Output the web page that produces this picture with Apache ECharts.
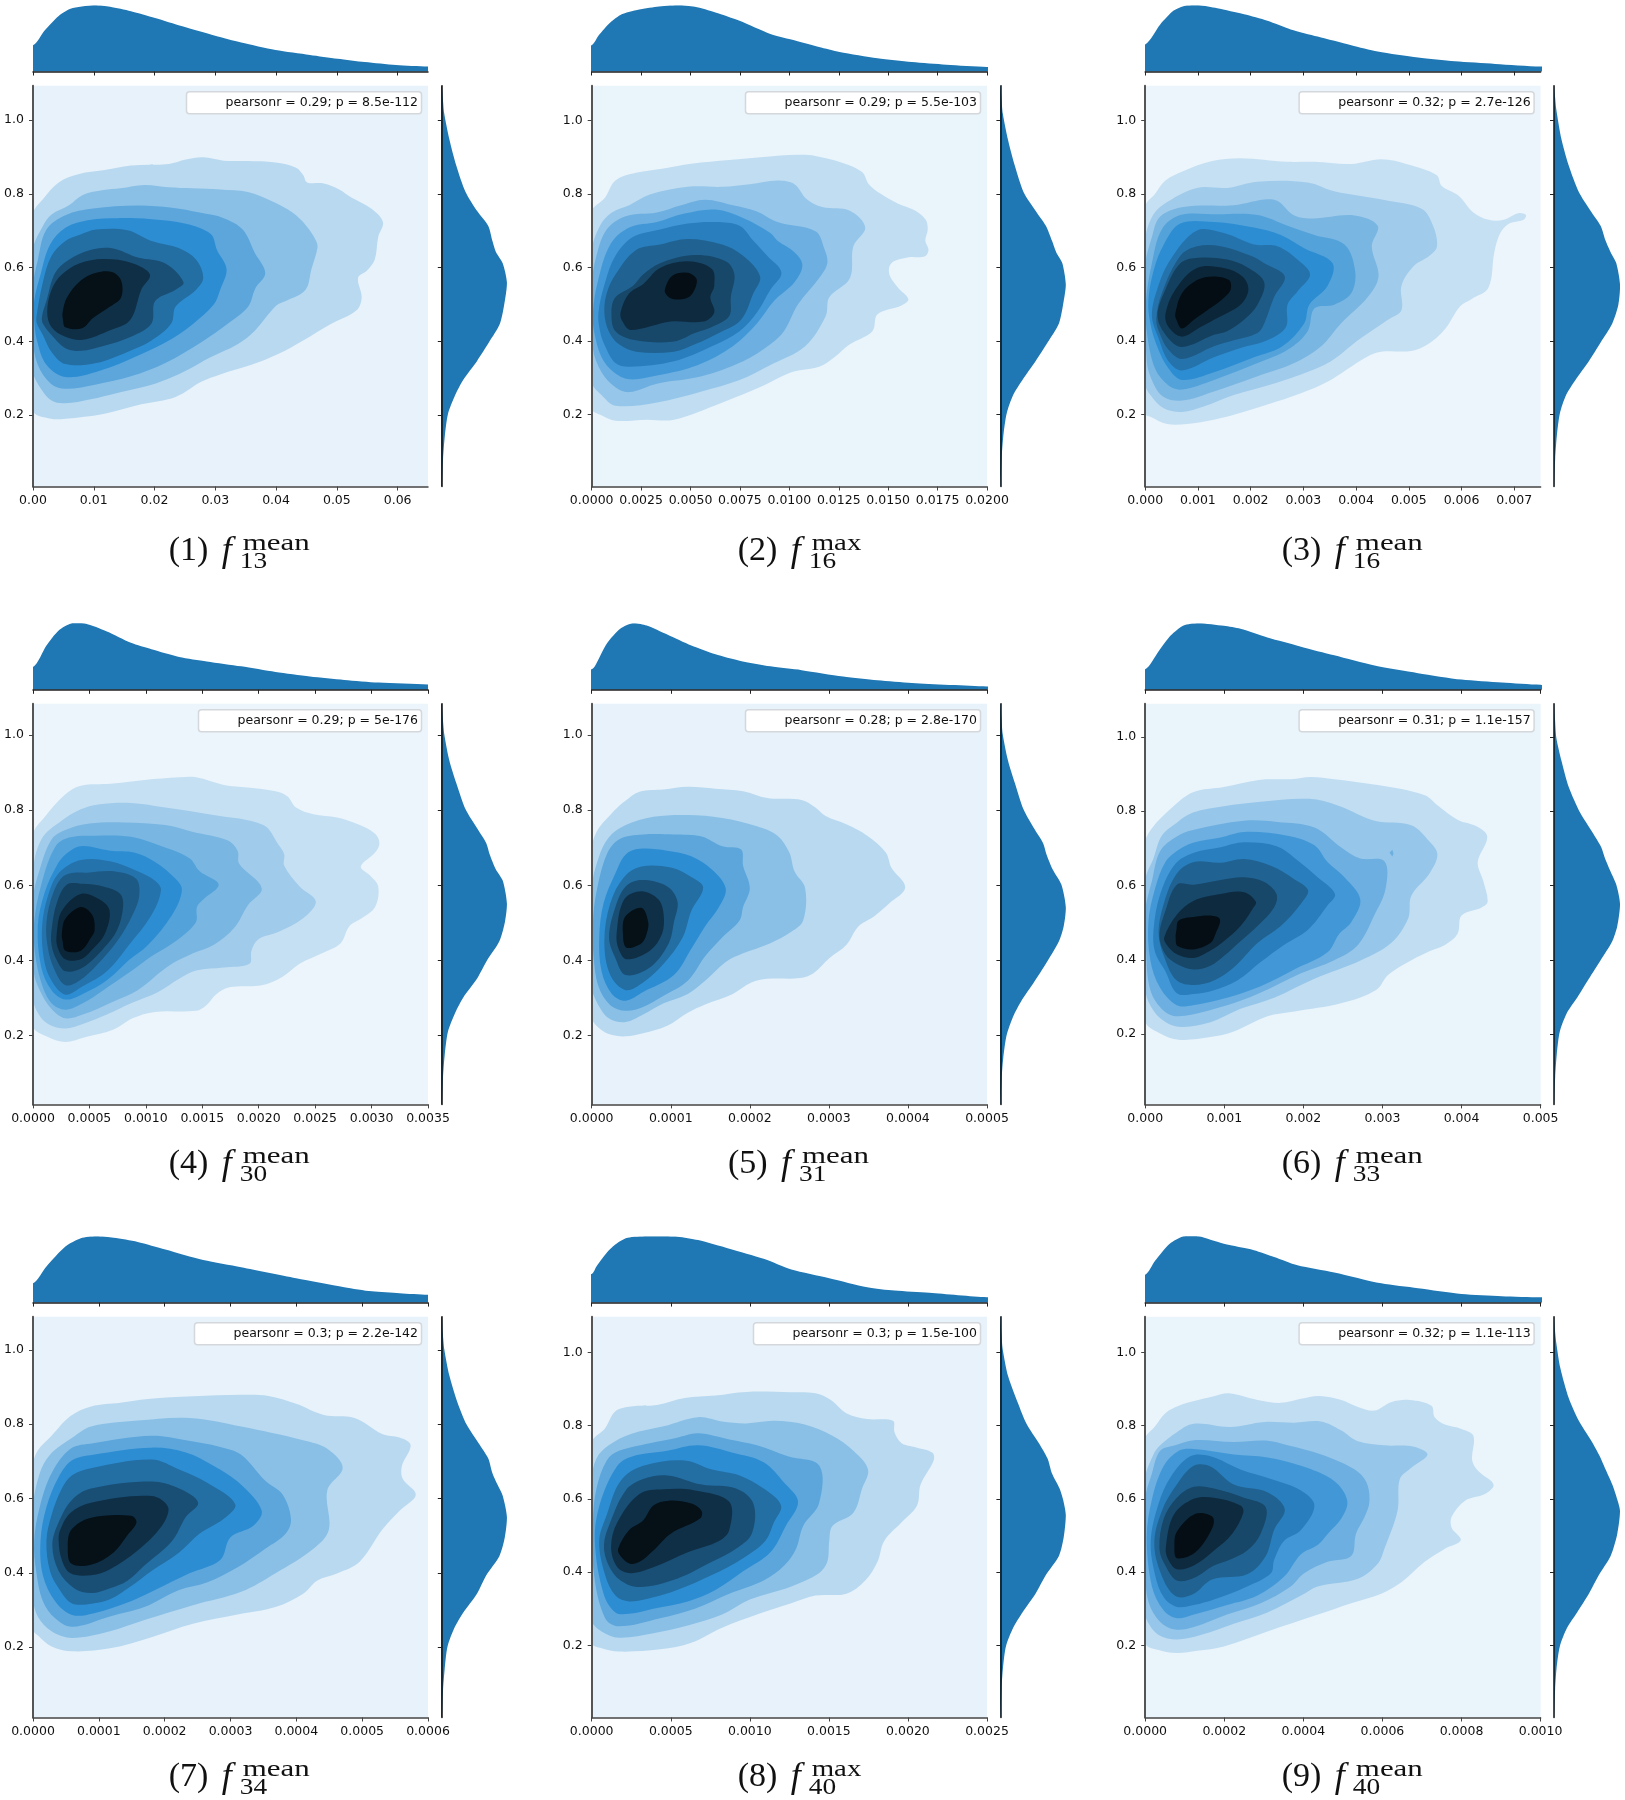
<!DOCTYPE html>
<html><head><meta charset="utf-8">
<style>html,body{margin:0;padding:0;background:#fff}#c{width:1625px;height:1800px}</style>
<script src="https://cdn.jsdelivr.net/npm/echarts@6/dist/echarts.min.js"></script>
</head><body><div id="c"></div>
<script>
// Contours: [x as percent of the panel's x-axis span, y value], one ring per density level, lightest first.
const contours1=[
[[0,.744],[2.5,.785],[6.5,.831],[11.7,.854],[17.8,.864],[24.8,.877],[34.4,.881],[38.7,.893],[43.1,.899],[48.3,.89],[54.4,.889],[61.4,.885],[66.6,.871],[68.4,.851],[69.4,.831],[73.6,.828],[77.5,.812],[80.6,.79],[85.8,.759],[88.6,.723],[87.4,.683],[86.5,.621],[84.5,.591],[82.3,.572],[83.2,.519],[81.9,.484],[75.3,.446],[68.4,.402],[62.2,.366],[55.3,.336],[47.4,.31],[42.6,.29],[36.1,.249],[27.4,.229],[17.8,.203],[8.2,.19],[4.5,.19],[0,.213]],
[[0,.647],[2.5,.713],[4.7,.744],[9.1,.769],[12.6,.797],[17.8,.81],[22.1,.815],[28.2,.824],[34.4,.818],[40.5,.815],[47.4,.812],[54.4,.805],[60.5,.78],[65.7,.749],[69.2,.713],[71.7,.672],[72,.652],[70.5,.596],[69,.54],[64,.509],[61.6,.497],[56.1,.428],[51.8,.392],[44.8,.356],[38.7,.32],[30.9,.285],[22.1,.262],[14.3,.242],[8.2,.232],[4.7,.239],[1.2,.285],[0,.32]],
[[0,.55],[1.2,.62],[3.4,.703],[8.2,.742],[15.2,.76],[26.5,.768],[35.2,.762],[42.2,.749],[48.3,.734],[53.1,.703],[56.1,.641],[58.8,.585],[56.3,.544],[54.4,.493],[49.2,.447],[43.1,.401],[33.5,.341],[24.8,.305],[16,.283],[8.2,.271],[4.5,.285],[1.2,.336],[0,.407]],
[[.3,.509],[1.9,.581],[4.3,.662],[8.2,.708],[14.3,.729],[21.3,.734],[30,.731],[38.7,.719],[45,.691],[46.6,.647],[49,.596],[47.4,.54],[45.7,.499],[40.5,.447],[35.2,.407],[26.5,.361],[16.9,.32],[8.2,.303],[3.4,.336],[1,.402],[.3,.457]],
[[.9,.468],[2.5,.56],[4.7,.632],[8.2,.672],[11.7,.688],[16,.703],[23.9,.701],[30,.672],[37,.652],[41.3,.621],[43.1,.572],[41.3,.54],[36.1,.494],[35,.448],[30,.402],[23.9,.371],[16,.341],[8.2,.338],[4.7,.371],[2.5,.417],[1,.448]],
[[2.3,.468],[3.4,.509],[5.6,.585],[9.1,.621],[14.3,.647],[20,.652],[26.5,.627],[33.5,.611],[38.1,.56],[36.1,.54],[30.9,.509],[30,.448],[24.8,.412],[17.8,.387],[12.1,.374],[8.2,.381],[4.7,.417],[2.5,.448]],
[[3.6,.479],[4.7,.54],[7.3,.581],[11.7,.611],[17.8,.623],[24.8,.613],[29.6,.581],[27.4,.54],[24.6,.458],[19.5,.43],[12.6,.404],[8.2,.412],[4.7,.438]],
[[7.5,.479],[8.6,.519],[12.1,.565],[16,.586],[20,.588],[22.3,.565],[22.3,.519],[19.5,.494],[15.2,.463],[12.4,.435],[8.2,.438],[7.6,.458]]
];
const contours2=[
[[0,.75],[3.4,.791],[6,.837],[11.2,.858],[18.2,.87],[25.2,.883],[34.8,.893],[43.5,.901],[52.2,.907],[56.6,.904],[63.5,.885],[68.4,.86],[70.1,.827],[73.1,.801],[77.5,.774],[81.9,.755],[84.5,.73],[85,.704],[84.4,.673],[85.2,.648],[84.2,.63],[80.2,.628],[75.8,.612],[75.3,.581],[77.5,.545],[80.1,.514],[78.4,.497],[72.3,.473],[71,.427],[65.3,.391],[61.4,.356],[57.5,.33],[50.5,.315],[43.5,.279],[33.1,.233],[20.8,.186],[13.9,.186],[6,.183],[2.6,.197],[0,.217]],
[[0,.642],[2.1,.714],[5.1,.75],[9.5,.77],[14.7,.799],[24.3,.82],[33.1,.82],[40,.827],[47,.837],[51.3,.827],[54.4,.786],[58.3,.765],[65.3,.755],[69.2,.709],[66.2,.658],[65.3,.571],[60.1,.519],[59.2,.468],[54,.386],[45.2,.335],[37.4,.294],[27.8,.263],[16.5,.233],[6,.224],[2.5,.253],[0,.289]],
[[0,.55],[1.2,.632],[3.8,.704],[8.6,.74],[16.5,.75],[22.6,.77],[28.7,.785],[35.7,.77],[41.8,.753],[47,.724],[56.6,.699],[58.8,.653],[59.6,.612],[57.5,.571],[52.2,.5],[48.7,.428],[45.2,.391],[38.3,.345],[27.8,.304],[16.5,.284],[9.5,.261],[6,.274],[2.5,.315],[.3,.381]],
[[.3,.478],[1.5,.56],[4.7,.663],[9.5,.709],[16.5,.724],[23.5,.747],[31.3,.758],[38.3,.735],[45.2,.694],[47,.673],[51.3,.642],[53.3,.607],[51.3,.56],[46.1,.509],[41.8,.448],[35.7,.386],[26.9,.335],[16.5,.306],[9.5,.296],[5.6,.315],[2.5,.356],[.6,.427]],
[[1.7,.478],[3.4,.56],[6,.632],[10.4,.683],[17.3,.704],[24.3,.72],[31.3,.724],[37.4,.714],[40.9,.673],[44.4,.632],[48,.586],[45.2,.54],[41.8,.478],[37.4,.427],[30.4,.386],[20.8,.345],[9.5,.33],[6,.34],[3.4,.386],[2.1,.427]],
[[3.2,.478],[3.8,.53],[6,.581],[11.2,.648],[17.3,.663],[24.3,.678],[33,.663],[38.3,.632],[42.6,.576],[40.9,.53],[37.8,.458],[32.2,.422],[26.1,.391],[20.8,.371],[11.2,.371],[6.9,.391],[4.3,.427]],
[[5,.478],[6,.519],[10.4,.55],[13,.581],[17.3,.612],[26.1,.634],[33.9,.617],[36.1,.581],[35.2,.52],[34.8,.468],[30.4,.438],[26.1,.422],[20.8,.399],[11.2,.402],[6,.427]],
[[7.3,.478],[9.5,.53],[13,.555],[17.3,.599],[24.3,.617],[30.4,.596],[31,.55],[30,.519],[31,.478],[28.2,.453],[20,.453],[9.9,.43],[7.8,.453]],
[[18.5,.54],[20.4,.578],[24.3,.586],[26.6,.566],[24.8,.521],[20.8,.514],[19,.525]]
];
const contours3=[
[[0,.765],[2.5,.801],[5.1,.837],[9.7,.863],[16.9,.89],[24.1,.898],[36,.888],[42.8,.888],[52.1,.882],[59.7,.895],[66.5,.881],[73.7,.852],[75,.822],[79.2,.796],[83,.75],[86.9,.73],[90.6,.73],[94.4,.748],[96.3,.743],[95.7,.73],[91.9,.719],[89.8,.694],[88.3,.642],[86.8,.545],[82.5,.514],[79.6,.494],[75.8,.432],[71.5,.391],[67.3,.373],[59.7,.371],[55.9,.356],[46.1,.289],[39.4,.258],[30.9,.227],[23.3,.202],[17.4,.186],[10.6,.174],[5.5,.174],[1.3,.194],[0,.202]],
[[0,.673],[2.1,.745],[5.9,.781],[13.1,.817],[20.7,.817],[28.3,.834],[41.1,.832],[47.8,.808],[60.5,.784],[69.9,.76],[72.8,.714],[73.8,.658],[71.9,.632],[67.8,.603],[64.8,.55],[64.8,.484],[61.4,.458],[53.8,.402],[47,.345],[39.4,.309],[30.9,.279],[22.4,.253],[14.8,.222],[9.3,.207],[4.7,.217],[1.3,.253],[0,.284]],
[[0,.601],[1.7,.683],[3.8,.739],[9.7,.765],[22.4,.77],[32.6,.785],[37.7,.742],[42.5,.734],[52.9,.742],[58.8,.714],[57.3,.658],[59,.576],[56.3,.52],[49.5,.448],[44.5,.386],[37.7,.34],[28.4,.304],[17.4,.263],[9.3,.238],[4.7,.248],[2.1,.284],[.4,.345]],
[[.2,.509],[1.7,.612],[4.2,.704],[8.9,.743],[18.2,.745],[28.4,.743],[36,.714],[42.8,.689],[50.4,.663],[53.1,.591],[52.1,.53],[47.8,.499],[42.8,.489],[41.1,.427],[36,.376],[28.4,.34],[17.4,.294],[9.3,.268],[5.9,.279],[2.5,.325],[.4,.427]],
[[.8,.509],[2.1,.591],[4.7,.663],[8.9,.72],[17.4,.724],[27.5,.709],[34.3,.689],[40.2,.653],[47.4,.612],[46.1,.55],[41.5,.499],[40.2,.448],[34.7,.386],[27.5,.356],[17.4,.315],[9.3,.294],[5.9,.325],[3,.386],[1.3,.448]],
[[1.7,.468],[3,.54],[6.4,.622],[13.1,.701],[19.9,.694],[27.5,.663],[33.4,.658],[38.5,.622],[41.7,.581],[38.5,.535],[36,.499],[35.6,.438],[30.9,.402],[24.1,.381],[17.4,.356],[9.3,.32],[5.9,.345],[3.4,.407]],
[[2.8,.458],[4.2,.53],[8.9,.632],[13.1,.658],[19.1,.658],[26.7,.632],[30.1,.612],[35.3,.576],[32.6,.52],[30.1,.448],[28.4,.422],[22.4,.402],[17.4,.386],[9.3,.351],[5.9,.376],[3.8,.417]],
[[3.1,.468],[5.1,.54],[8.9,.612],[13.5,.627],[20.7,.622],[25.8,.601],[30.1,.56],[28.4,.499],[25,.458],[20.7,.427],[17.4,.417],[9.3,.384],[5.5,.412]],
[[5.1,.473],[7.6,.54],[13.1,.599],[19.9,.599],[24.6,.576],[26.1,.54],[24.1,.499],[17.4,.458],[14,.438],[9.3,.412],[5.9,.438]],
[[7.6,.473],[9.3,.53],[13.1,.566],[17.2,.576],[21.2,.566],[21.6,.54],[19.5,.514],[15.7,.484],[12.3,.458],[9.3,.434],[7.9,.458]]
];
const contours4=[
[[0,.732],[3,.782],[8.2,.842],[12.1,.865],[19.5,.87],[28.2,.88],[37,.887],[41.3,.887],[48.3,.867],[54.4,.86],[61.4,.85],[64.4,.837],[66.6,.807],[71,.789],[77,.78],[82.3,.762],[86.6,.737],[87.7,.712],[86.6,.687],[83,.65],[85.2,.627],[87.4,.597],[86.6,.542],[83.2,.512],[80.1,.491],[77.9,.446],[73.6,.421],[67.5,.391],[63.1,.356],[57.9,.334],[50,.329],[46.5,.311],[43.9,.281],[41.3,.266],[30.9,.263],[25.2,.246],[20.4,.216],[13.4,.196],[8.2,.183],[3.8,.196],[0,.226]],
[[0,.632],[2.1,.722],[7.3,.772],[12.1,.802],[16.5,.815],[24.8,.819],[33.5,.807],[45.7,.787],[58.3,.76],[62.2,.707],[63.6,.682],[63.6,.652],[67.5,.597],[71.6,.557],[68.4,.512],[62.2,.476],[57,.456],[55.3,.426],[54.8,.391],[48.3,.381],[41.3,.373],[37,.351],[31.7,.316],[24.8,.286],[18.7,.256],[12.6,.231],[8.2,.219],[3.8,.231],[1.2,.261],[0,.301]],
[[0,.562],[1.7,.642],[4.7,.722],[8.2,.747],[14.3,.764],[23,.767],[33.5,.76],[40.5,.742],[49.2,.72],[51.8,.692],[52.2,.657],[57.9,.592],[54.4,.547],[50.9,.486],[45.7,.441],[40.5,.419],[34.4,.386],[26.5,.321],[20.4,.291],[12.6,.256],[8.2,.246],[4.7,.271],[1.7,.321],[.2,.371]],
[[.3,.501],[2.1,.602],[5.6,.702],[9.1,.727],[16,.732],[24.8,.729],[31.7,.707],[39.6,.672],[42.2,.637],[47,.602],[43.1,.562],[41.5,.542],[41.2,.501],[36.1,.451],[30,.411],[24.8,.371],[17.8,.321],[12.6,.286],[8.2,.269],[4.7,.286],[2.1,.341],[.5,.421]],
[[1.2,.491],[3,.582],[6,.652],[8.2,.682],[12.1,.704],[19.5,.692],[25.6,.687],[30.9,.662],[36.1,.617],[37.7,.587],[35.2,.521],[29.1,.441],[24.3,.401],[18.7,.347],[12.6,.311],[8.2,.296],[4.7,.321],[2.1,.381]],
[[2.3,.491],[3.8,.572],[6.5,.632],[12.1,.667],[19.5,.664],[26.5,.637],[30.9,.612],[32.4,.587],[30,.521],[24.3,.441],[18.7,.371],[12.6,.331],[8.2,.309],[4.7,.346],[2.8,.401]],
[[3.4,.501],[5.2,.582],[8.2,.627],[14.3,.634],[20.4,.637],[26.1,.617],[26.9,.572],[25.2,.521],[21.3,.451],[16,.386],[11.7,.346],[8.2,.334],[5.6,.371],[3.8,.431]],
[[4.7,.481],[6,.552],[8.6,.602],[12.6,.604],[17.8,.597],[22.1,.577],[22.8,.542],[21.3,.481],[17.8,.431],[12.6,.381],[8.2,.371],[6,.401],[4.7,.441]],
[[6,.471],[7.3,.532],[12.1,.577],[16.9,.562],[19.4,.532],[18.2,.471],[15.2,.431],[12.1,.403],[8.2,.403],[6.2,.436]],
[[7.3,.471],[8.2,.511],[12.1,.542],[15,.521],[15.6,.481],[14.7,.461],[12.1,.426],[8.2,.426],[7.5,.451]]
];
const contours5=[
[[0,.692],[1.2,.742],[4.7,.787],[8.2,.822],[12.1,.849],[18.2,.855],[24.3,.862],[31.3,.857],[38.3,.85],[44.4,.832],[53.1,.827],[56.6,.807],[59.2,.784],[64.4,.762],[69.7,.732],[74.4,.687],[75.8,.647],[79.3,.594],[75.3,.552],[71.4,.517],[67.5,.491],[64.4,.441],[60.1,.406],[56.1,.366],[52.7,.353],[44.4,.351],[40.4,.341],[35.7,.311],[28.7,.283],[24.3,.261],[19.1,.226],[13,.206],[8.6,.198],[4.3,.204],[1.2,.226],[0,.251]],
[[0,.592],[1.7,.672],[4.3,.727],[8.6,.76],[15.6,.782],[24.3,.787],[33,.779],[41.8,.757],[47,.732],[50,.687],[51.3,.637],[54,.592],[53.5,.506],[50.5,.476],[45.2,.446],[38.3,.419],[33.9,.396],[28.7,.346],[24.3,.311],[18.2,.286],[13,.256],[8.6,.236],[4.3,.246],[1.2,.291],[0,.331]],
[[.3,.501],[1.2,.582],[3.8,.682],[6.9,.722],[13,.735],[20.8,.735],[27.8,.73],[33,.704],[37.8,.695],[38.3,.652],[40,.592],[38.3,.542],[37.4,.506],[33,.461],[28.7,.411],[24.3,.346],[18.2,.306],[13,.276],[8.6,.266],[4.7,.281],[1.7,.331],[.4,.421]],
[[1.9,.461],[3,.552],[6,.632],[8.6,.682],[12.1,.697],[19.1,.692],[25.2,.677],[30.4,.642],[33.9,.592],[32.2,.542],[28.7,.491],[25.2,.431],[20.8,.361],[13,.316],[8.6,.293],[5.1,.311],[2.5,.371]],
[[3.2,.451],[4.7,.552],[8.2,.622],[12.6,.65],[20,.647],[25.2,.622],[28.2,.594],[25.2,.532],[23,.461],[18.2,.391],[13,.341],[8.6,.321],[4.7,.361]],
[[4.4,.461],[6,.542],[8.6,.597],[12.6,.614],[19.1,.597],[21.7,.557],[20.8,.502],[19.5,.446],[14.7,.381],[8.6,.361],[6,.406]],
[[6.3,.471],[8.2,.562],[12.6,.584],[16.9,.562],[18.2,.522],[17.8,.471],[14.7,.426],[8.8,.403],[6.8,.431]],
[[7.9,.471],[8.5,.517],[12.6,.54],[14.3,.502],[13.9,.471],[12.6,.446],[8.8,.434]]
];
const contours6=[
[[0,.713],[1.7,.754],[6.8,.81],[12.1,.851],[19.9,.865],[28.8,.884],[36.9,.886],[41.9,.892],[47.8,.886],[58.8,.87],[70.7,.843],[74,.815],[79.1,.776],[83.8,.759],[86.5,.731],[84.1,.663],[85.5,.612],[86.6,.556],[85.1,.541],[80,.519],[79,.47],[75.8,.44],[71.6,.422],[65.6,.389],[61.4,.359],[58.4,.319],[49.5,.283],[37.7,.261],[30.9,.248],[22.4,.207],[16.5,.192],[8.5,.185],[3.8,.202],[0,.237]],
[[0,.612],[2.1,.673],[4.2,.734],[8,.769],[12.1,.796],[19.9,.813],[29.2,.825],[41.5,.833],[48.7,.815],[58,.774],[67.3,.762],[71.9,.718],[73.9,.683],[71.9,.632],[67.3,.572],[66.5,.511],[62.2,.445],[54.6,.399],[42.8,.349],[32.6,.298],[24.1,.268],[16.5,.232],[8.5,.22],[3.8,.243],[.8,.288],[0,.329]],
[[0,.531],[1.7,.612],[3.8,.693],[8,.732],[12.1,.749],[25,.774],[33.4,.771],[42.8,.756],[49.5,.703],[54.2,.673],[60.5,.665],[60.8,.592],[58,.521],[53.8,.44],[47.8,.399],[39.4,.364],[28.4,.308],[20.7,.278],[8.5,.248],[4.7,.263],[1.3,.319],[.2,.43]],
[[.8,.501],[2.5,.592],[5.1,.663],[8,.693],[12.1,.715],[19.1,.729],[25,.744],[36,.734],[42.8,.708],[46.1,.663],[50.4,.622],[54.4,.562],[52.1,.501],[49.1,.47],[46.1,.42],[37.7,.374],[29.2,.329],[20.7,.298],[12.1,.278],[8,.278],[3.8,.324],[1.3,.399]],
[[2.1,.48],[3.8,.577],[7.6,.658],[12.3,.688],[19.1,.703],[25,.716],[33.4,.705],[38.5,.668],[43.6,.622],[48,.577],[46.1,.546],[41.1,.48],[35.1,.44],[29.2,.394],[23.3,.344],[17.4,.318],[12.3,.308],[8,.31],[5.1,.369],[2.5,.42]],
[[3.4,.47],[4.7,.551],[8,.632],[12.3,.663],[19.1,.661],[25,.671],[31.8,.653],[37.7,.617],[41.2,.587],[39.4,.551],[34.3,.491],[28.4,.445],[22.4,.379],[17.4,.344],[12.3,.332],[8,.344],[5.1,.399]],
[[3.6,.465],[5.1,.531],[8,.602],[12.3,.602],[19.1,.615],[25,.622],[30,.61],[33.2,.577],[32.6,.541],[28.4,.491],[24.1,.45],[19.9,.41],[16.5,.384],[12.3,.374],[8,.389],[5.1,.415]],
[[4.8,.46],[8,.521],[12.3,.559],[19.1,.577],[25,.582],[28,.556],[27.1,.536],[24.1,.491],[19.9,.45],[16.5,.425],[12.3,.405],[8,.415],[5.5,.44]],
[[7.9,.48],[8.5,.506],[12.7,.516],[16.5,.519],[18.9,.509],[17.8,.47],[16.5,.445],[12.3,.428],[8.2,.437],[7.7,.46]]
];
const blob6=[[61.8,.688],[62.5,.696],[62.8,.685],[62.5,.678]];
const contours7=[
[[0,.688],[1.2,.729],[4.7,.769],[9.5,.822],[14.7,.848],[22.1,.858],[29.1,.868],[40.5,.875],[52.6,.879],[59.6,.876],[66.6,.855],[73.6,.825],[81.4,.817],[88.4,.774],[92.8,.764],[95.6,.744],[93.4,.688],[93.6,.653],[96.9,.61],[92.8,.567],[88.4,.516],[82.7,.43],[77.1,.399],[71.9,.379],[68.4,.344],[61.4,.308],[51.8,.288],[40.5,.263],[30,.227],[19.5,.197],[9.9,.189],[4.7,.202],[1.2,.232],[0,.248]],
[[0,.577],[1.7,.668],[4.3,.718],[10,.764],[14.7,.794],[26.5,.81],[39.6,.817],[52.7,.794],[68.4,.757],[74.5,.734],[78.4,.683],[74.5,.622],[74.9,.516],[71,.465],[61.4,.399],[52.7,.349],[40.5,.313],[28.2,.273],[19.5,.243],[9.9,.225],[4.7,.243],[1.2,.283],[0,.334]],
[[.3,.486],[1.7,.577],[4.7,.668],[9.5,.734],[15.2,.749],[30,.769],[38.7,.757],[47.4,.739],[52.7,.718],[58.8,.648],[63.1,.612],[65.3,.546],[64,.506],[58.8,.465],[51.8,.415],[44,.374],[37,.354],[28.2,.308],[19.5,.283],[9.9,.255],[5.6,.278],[2.5,.324],[.8,.405]],
[[1.9,.486],[3.4,.577],[6.5,.658],[9.9,.703],[15.2,.718],[30,.737],[38.7,.724],[45.7,.688],[52.7,.637],[57.9,.567],[55.7,.526],[50,.496],[47.4,.435],[39.6,.399],[30.9,.354],[24.8,.324],[15.2,.291],[9.9,.287],[5.6,.324],[2.5,.394]],
[[3.4,.486],[4.7,.556],[7.3,.627],[9.9,.663],[15.2,.683],[30,.705],[37,.678],[44,.643],[51.2,.585],[48.3,.546],[42.2,.506],[37,.455],[30,.405],[24.8,.364],[19.5,.329],[15.2,.318],[9.9,.318],[6.5,.359],[4.3,.405]],
[[4.9,.475],[6.5,.536],[9.9,.597],[14.7,.627],[30,.646],[37,.627],[41.8,.589],[38.7,.551],[35.2,.486],[28.2,.42],[23.9,.379],[19.5,.359],[14.7,.346],[10.4,.359],[6.5,.405]],
[[6.5,.486],[6.9,.516],[9.5,.562],[14.7,.589],[30,.607],[34.2,.577],[32.6,.526],[26.5,.46],[19.5,.41],[14.7,.394],[9.5,.399],[7.3,.435]],
[[8.8,.47],[9.7,.516],[14.5,.548],[24.8,.554],[26.2,.536],[23.9,.501],[20.4,.455],[14.7,.422],[9.7,.425]]
];
const contours8=[
[[0,.752],[3.4,.793],[6,.839],[9.9,.852],[16.5,.856],[23.5,.875],[31.3,.882],[39.1,.892],[50.5,.891],[56.6,.888],[60.5,.87],[64.4,.834],[69.7,.818],[76.2,.813],[76.6,.782],[78.4,.752],[81.9,.741],[86.2,.726],[86.5,.705],[83.2,.639],[82.3,.582],[78.4,.536],[74,.485],[72.3,.428],[69.2,.377],[64.4,.341],[56.6,.336],[50.5,.315],[41.8,.284],[33,.248],[25.2,.207],[17.3,.189],[6.9,.183],[2.5,.192],[0,.207]],
[[0,.649],[1.2,.71],[4.3,.746],[9.9,.777],[18.2,.798],[26.9,.823],[33,.811],[39.1,.806],[46.1,.813],[53.9,.803],[60.9,.772],[66.2,.731],[69.9,.68],[68.4,.628],[66.2,.562],[60.9,.526],[60.1,.485],[59.6,.428],[57.5,.397],[50.5,.361],[40,.325],[33,.284],[24.3,.254],[15.6,.233],[6.9,.221],[2.5,.238],[0,.269]],
[[.3,.536],[1.2,.628],[3.8,.705],[6.9,.731],[14.7,.752],[21.6,.767],[26.9,.779],[34.8,.762],[41.8,.746],[49.6,.716],[57.6,.69],[57.5,.587],[53.5,.526],[51.7,.464],[48.7,.418],[43.5,.377],[34.8,.341],[26.1,.3],[17.3,.274],[6.9,.252],[3.4,.274],[.6,.392]],
[[.8,.485],[2.1,.587],[6.5,.69],[10.4,.716],[19.1,.731],[26.9,.746],[35.7,.726],[43.5,.7],[48.7,.644],[52.2,.592],[49.1,.526],[45.2,.454],[38.3,.402],[31.3,.351],[24.3,.32],[15.6,.3],[9.5,.286],[6,.29],[3,.341]],
[[1.9,.485],[3.8,.556],[7.3,.649],[13,.69],[23.5,.705],[30.4,.68],[37.4,.664],[43.5,.628],[47.9,.582],[46.1,.536],[43.9,.485],[38.3,.438],[30.4,.392],[21.6,.351],[15.6,.331],[9.5,.32],[6,.336],[3.4,.392]],
[[3.1,.474],[4.7,.536],[8.6,.623],[13,.654],[19.1,.664],[27.8,.639],[36.5,.628],[40.9,.587],[40.5,.505],[36.5,.464],[30.4,.428],[21.6,.382],[12.1,.359],[7.3,.377],[4.3,.418]],
[[4.9,.469],[6.5,.536],[12.1,.613],[18.2,.626],[26.1,.623],[34.8,.592],[34.8,.515],[32.2,.485],[24.3,.454],[15.6,.413],[9.9,.397],[6.5,.413]],
[[6.7,.464],[9.5,.515],[13,.541],[15.6,.582],[19.5,.595],[25.2,.587],[27.8,.567],[27.4,.546],[20,.505],[15.6,.459],[12.1,.428],[9.7,.423],[7.3,.444]]
];
const contours9=[
[[0,.762],[2.5,.798],[5.1,.834],[8.5,.854],[12.4,.867],[17.4,.88],[21.2,.888],[28.4,.87],[34.3,.862],[39.4,.873],[44,.881],[49.6,.87],[53.8,.851],[58,.841],[62.2,.864],[66.9,.87],[72.4,.854],[73.2,.823],[75.8,.803],[80,.791],[83,.772],[82.7,.705],[84.3,.675],[88.1,.639],[85.9,.613],[80.9,.595],[77.5,.551],[77.5,.521],[79.8,.487],[75.8,.464],[70.7,.428],[64.8,.372],[59.7,.341],[52.1,.315],[43.7,.284],[30.9,.238],[19.9,.197],[13.1,.185],[8,.179],[3.4,.187],[0,.207]],
[[0,.654],[2.1,.721],[3.8,.746],[8,.782],[12.3,.805],[21.6,.796],[30.1,.81],[37.7,.808],[44.4,.811],[49.5,.787],[53.8,.757],[60.5,.746],[67.7,.743],[71.4,.721],[67.3,.685],[64.4,.654],[63.8,.567],[60.5,.464],[58.8,.423],[53.8,.382],[43.6,.361],[39.4,.336],[30.9,.29],[22.4,.259],[14,.228],[8,.216],[3.4,.228],[.4,.269],[0,.3]],
[[0,.598],[1.7,.669],[3.8,.731],[7.6,.746],[12.3,.76],[22.4,.755],[30.5,.759],[36,.746],[44.5,.721],[53,.68],[56,.644],[56.7,.592],[55.5,.551],[53.3,.505],[52.1,.444],[46.1,.428],[40.2,.397],[36.8,.361],[29.2,.315],[20.7,.284],[12.3,.25],[7.6,.243],[3.8,.264],[.8,.32],[.1,.402]],
[[.4,.495],[1.7,.598],[4.7,.69],[8.5,.731],[12.3,.736],[22.4,.721],[30.9,.713],[39.4,.69],[47.8,.649],[51.1,.595],[49.6,.546],[46.2,.505],[43.6,.474],[39.4,.449],[35.1,.387],[28.4,.336],[20.7,.31],[12.3,.284],[8,.274],[4.7,.295],[1.7,.361]],
[[1.4,.485],[3.4,.587],[6.4,.659],[11.4,.716],[16.5,.716],[24.1,.68],[31.8,.654],[39.4,.623],[42.8,.582],[39.4,.515],[35.1,.485],[32.6,.433],[31.8,.397],[25.8,.361],[17.4,.325],[12.3,.31],[8,.305],[4.7,.331],[2.5,.392]],
[[2.3,.474],[4.2,.567],[8,.639],[12.3,.69],[16.5,.688],[22.4,.639],[30.9,.618],[35.3,.572],[32.6,.515],[30.5,.444],[25.8,.394],[16.9,.38],[12.3,.341],[8,.333],[4.7,.377]],
[[3.6,.464],[4.7,.546],[8,.603],[12.3,.633],[17.4,.628],[25,.603],[30.5,.577],[29.2,.505],[25.8,.459],[21.2,.433],[17.4,.418],[12.3,.384],[8,.377],[5.1,.418]],
[[5.2,.464],[7.2,.556],[12.3,.6],[17.4,.603],[24.1,.582],[24.8,.562],[22,.505],[17.4,.459],[12.3,.418],[8,.408],[5.9,.433]],
[[7.4,.469],[8,.51],[12.7,.559],[17,.551],[17,.521],[12.7,.454],[8,.438]]
];
// Top marginal densities: [x percent of span, density percent of panel peak]
const topKde=[
[[0,39.8],[3,62.5],[6.5,84],[9.5,94.9],[15.3,100],[19.5,97.7],[24.8,90.9],[30.9,80.7],[37.8,68.2],[46.1,54],[52.7,43.8],[61.4,32.4],[70.1,25],[77.1,19.3],[84,14.2],[91.9,9.7],[100,7.4]],
[[0,39.8],[1.7,54],[4.7,74],[7.6,86.4],[11.2,92.6],[16.5,97.7],[21.7,100],[26.1,97.7],[31.3,89.2],[37.4,76.7],[45.2,56.8],[50.5,48.3],[57.5,36.9],[62.7,29.5],[72.3,19.9],[81,14.2],[89.7,10.2],[100,6.8]],
[[0,40.9],[3.8,71],[7.2,92],[10.2,99.4],[13.5,100],[18.2,95.5],[25,86.4],[30.9,76.7],[36.8,63.6],[43.6,52.8],[52.1,39.8],[58.8,30.1],[69,21],[78.3,15.3],[88.5,11.4],[100,7.4]],
[[0,34.1],[3.4,66.5],[6.5,89.2],[9.8,100],[13.2,99.4],[18.7,87.5],[24.8,70.5],[30,60.8],[37,49.4],[44,42.6],[52.7,35.2],[61.4,26.7],[70.1,19.9],[78.8,14.8],[87.5,10.8],[100,8]],
[[0,30.7],[.8,35.2],[3.8,69.3],[7.3,92],[10.4,100],[13.9,96.6],[19.1,83],[25.2,66.5],[31.3,53.4],[37.4,43.8],[45.2,35.2],[53.1,29.5],[63.6,19.9],[72.3,14.2],[81,10.2],[100,5.1]],
[[0,30.7],[3.4,57.9],[6.5,81.8],[9.7,96.6],[13.5,100],[19.9,96],[24.1,91.5],[30.9,78.4],[39.4,64.8],[47.8,51.7],[58,36.4],[69,25],[80,15.3],[90.2,10.8],[100,7.4]],
[[0,29],[3.4,54.5],[8.2,84.5],[12.1,97],[16,100],[20.4,97.7],[26.5,91.5],[33.5,80.1],[43.1,64.2],[52.7,53.4],[66.6,36.9],[78.8,23.3],[85.8,17],[92.8,14.2],[100,11.9]],
[[0,43.2],[1.2,54.5],[4.3,78.4],[6.5,89.8],[9.1,97.7],[13.9,100],[21.7,99.4],[26.9,94.3],[34.8,81.3],[43.5,66],[50.5,50],[60.1,36.9],[69.7,23.3],[76.6,18.2],[85.4,14.8],[100,8]],
[[0,42],[2.5,63],[6.2,88.6],[9.7,100],[13.5,100],[19.9,88.6],[27.5,79],[32.6,68.8],[38.5,56.3],[47.8,45.5],[59.7,29],[69,21.6],[80,13],[90.2,9.7],[100,8]]
];
// Right marginal densities: [y value, density percent of panel peak]
const rightKde=[
[[1.093,.4],[1.06,1.6],[1.019,3.6],[.948,11.6],[.877,22.2],[.805,36.5],[.754,54],[.713,71.4],[.672,77.8],[.642,83.1],[.611,93.7],[.56,100],[.509,96.8],[.448,89.4],[.397,72.5],[.346,54],[.295,32.8],[.254,20.6],[.203,9.5],[.142,4.6],[.08,1.9],[.006,.4]],
[[1.095,.4],[1.06,1.6],[1.02,3.6],[.948,11.6],[.877,22.1],[.806,35.3],[.755,53.7],[.714,69.5],[.673,78.9],[.642,85.3],[.612,94.7],[.555,100],[.509,96.8],[.448,89.5],[.396,72.1],[.345,53.7],[.294,33.7],[.253,19.5],[.202,9.5],[.14,4.4],[.08,1.9],[.004,.4]],
[[1.095,.4],[1.065,1.6],[1.032,3.4],[.95,11.2],[.878,22.3],[.806,37.6],[.755,55.3],[.714,70.6],[.673,78.2],[.642,85.8],[.612,94.4],[.555,100],[.499,97.5],[.448,88.3],[.396,70.6],[.345,52.8],[.294,32.5],[.253,18.3],[.202,8.8],[.14,4.2],[.08,1.8],[.004,.4]],
[[1.083,.4],[1.045,1.6],[1.002,3.8],[.932,11.6],[.872,22.2],[.802,36.5],[.752,54],[.712,68.3],[.682,73.6],[.642,83.1],[.612,93.7],[.552,100],[.501,96.8],[.451,88.4],[.401,69.8],[.351,54],[.301,32.8],[.261,20.6],[.211,9.5],[.151,4.6],[.09,1.9],[.017,.4]],
[[1.083,.4],[1.045,1.6],[1.002,3.6],[.932,11.6],[.872,22.1],[.802,35.3],[.752,51.1],[.712,65.3],[.682,70.5],[.642,80],[.602,93.2],[.542,100],[.491,96.8],[.451,89.5],[.391,69.5],[.341,51.1],[.291,31.6],[.251,19.5],[.201,9.5],[.141,4.4],[.085,1.9],[.017,.4]],
[[1.089,.4],[1.045,1.6],[.997,3.6],[.936,11.2],[.865,22.3],[.794,40.1],[.744,57.9],[.703,71.6],[.673,77.2],[.643,84.3],[.602,94.4],[.551,100],[.491,95.9],[.45,88.3],[.399,70.6],[.349,52.8],[.298,35],[.258,19.8],[.207,8.8],[.146,4.2],[.085,1.8],[.011,.4]],
[[1.089,.4],[1.045,1.6],[1.002,3.8],[.931,11.6],[.86,23.8],[.799,38.1],[.749,56.6],[.708,71.4],[.668,77.8],[.637,85.7],[.607,93.7],[.551,100],[.496,96.8],[.445,88.4],[.394,68.3],[.344,54],[.293,32.8],[.253,19.6],[.202,8.8],[.141,4.4],[.085,1.9],[.011,.4]],
[[1.097,.4],[1.05,1.6],[1.008,3.6],[.936,11.6],[.864,26.3],[.803,40.5],[.752,58.9],[.71,72.1],[.669,78.9],[.628,90.5],[.598,95.8],[.556,100],[.495,96.8],[.444,89.5],[.392,69.5],[.341,53.7],[.29,33.7],[.248,19.5],[.197,8.4],[.136,3.8],[.08,1.7],[.003,.4]],
[[1.097,.4],[1.06,1.5],[1.029,3.2],[.957,9.6],[.875,22.3],[.813,37.6],[.762,55.3],[.721,68],[.68,78.2],[.639,88.3],[.598,95.9],[.567,100],[.505,95.9],[.444,85.8],[.392,68],[.341,52.8],[.29,35],[.248,19.8],[.197,8.8],[.136,3.8],[.08,1.7],[.003,.4]]
];
const allContours=[contours1,contours2,contours3,contours4,contours5,contours6,contours7,contours8,contours9];
const xMaxes=[.065,.02,.0075,.0035,.0005,.005,.0006,.0025,.001];
const xTicks=[
[0,.01,.02,.03,.04,.05,.06],
[0,.0025,.005,.0075,.01,.0125,.015,.0175,.02],
[0,.001,.002,.003,.004,.005,.006,.007],
[0,.0005,.001,.0015,.002,.0025,.003,.0035],
[0,.0001,.0002,.0003,.0004,.0005],
[0,.001,.002,.003,.004,.005],
[0,.0001,.0002,.0003,.0004,.0005,.0006],
[0,.0005,.001,.0015,.002,.0025],
[0,.0002,.0004,.0006,.0008,.001]];
const xDecimals=[2,4,3,4,4,3,4,4,4];
const yTicks=[.2,.4,.6,.8,1];
const yRanges=[[.006,1.093],[.004,1.095],[.004,1.095],[.017,1.083],[.017,1.083],[.011,1.089],[.011,1.089],[.003,1.097],[.003,1.097]];
const statTexts=['pearsonr = 0.29; p = 8.5e-112','pearsonr = 0.29; p = 5.5e-103','pearsonr = 0.32; p = 2.7e-126','pearsonr = 0.29; p = 5e-176','pearsonr = 0.28; p = 2.8e-170','pearsonr = 0.31; p = 1.1e-157','pearsonr = 0.3; p = 2.2e-142','pearsonr = 0.3; p = 1.5e-100','pearsonr = 0.32; p = 1.1e-113'];
const statWidths=[235,235,235,223,235,235,227,227,235];
const capNums=['(1)','(2)','(3)','(4)','(5)','(6)','(7)','(8)','(9)'];
const capSups=['mean','max','mean','mean','mean','mean','mean','max','mean'];
const capSubs=['13','16','16','30','31','33','34','40','40'];
const capStarts=[168.7,737.7,1281.8,168.7,728,1281.8,168.7,737.7,1281.8];

const cols=[{l:33,r:428,ml:441.8,mr:506.9},{l:591.7,r:987,ml:1000.4,mr:1065.8},{l:1145.2,r:1540.6,ml:1554,mr:1620}];
const rows=[{mt:5.3,mb:71.5,t:85.8,b:486.5,cap:551},{mt:623.2,mb:689.8,t:703.7,b:1104.4,cap:1164},{mt:1236.3,mb:1302.6,t:1316.8,b:1717.5,cap:1777}];
const filledCounts=[8,9,10,10,8,9,8,8,9];
const fillBlue='#1f77b4';

function mix(a,b,t){return a.map((v,i)=>Math.round(v+(b[i]-v)*t));}
function paletteColor(t){
  const c=t<.5?mix([255,255,255],[45,141,210],t/.5):mix([45,141,210],[0,0,0],(t-.5)/.5);
  return 'rgb('+c.join(',')+')';
}
const grids=[],xAxes=[],yAxes=[],series=[],graphics=[];
function polySeries(idx,pts,color,smooth){
  series.push({type:'custom',xAxisIndex:idx,yAxisIndex:idx,data:pts,encode:{x:0,y:1},clip:true,silent:true,z:2,animation:false,
    renderItem:function(p,api){
      if(p.dataIndex!==0)return null;
      return {type:'polygon',shape:{points:pts.map(q=>api.coord(q)),smooth:smooth},style:{fill:color,stroke:null}};
    }});
}
const lblFont={fontFamily:'DejaVu Sans',fontSize:12.5,color:'#111'};
for(let n=0;n<9;n++){
  const c=cols[n%3],r=rows[Math.floor(n/3)],xMax=xMaxes[n],yr=yRanges[n],N=filledCounts[n]+1;
  const base=n*3;
  const ticksX=xTicks[n];
  // main
  grids.push({left:c.l,top:r.t,width:c.r-c.l,height:r.b-r.t,show:true,backgroundColor:paletteColor(.5/N),borderWidth:0});
  xAxes.push({type:'value',gridIndex:base,min:0,max:xMax,z:5,splitLine:{show:false},
    axisLine:{show:true,onZero:false,lineStyle:{color:'#444',width:1.5}},
    axisTick:{show:true,length:4,customValues:ticksX,lineStyle:{color:'#444'}},
    axisLabel:Object.assign({show:true,margin:8,customValues:ticksX,formatter:v=>Number(v).toFixed(xDecimals[n])},lblFont)});
  yAxes.push({type:'value',gridIndex:base,min:yr[0],max:yr[1],z:5,splitLine:{show:false},
    axisLine:{show:true,onZero:false,lineStyle:{color:'#555',width:2}},
    axisTick:{show:true,length:4,customValues:yTicks,lineStyle:{color:'#444'}},
    axisLabel:Object.assign({show:true,margin:9,customValues:yTicks,formatter:v=>Number(v).toFixed(1)},lblFont)});
  allContours[n].forEach((ring,i)=>{
    polySeries(base,ring.map(p=>[p[0]/100*xMax,p[1]]),paletteColor((i+1.5)/N),.35);
  });
  if(n===5)polySeries(base,blob6.map(p=>[p[0]/100*xMax,p[1]]),paletteColor(3.5/N),0);
  // top marginal
  grids.push({left:c.l,top:r.mt,width:c.r-c.l,height:r.mb-r.mt});
  xAxes.push({type:'value',gridIndex:base+1,min:0,max:xMax,z:5,splitLine:{show:false},
    axisLine:{show:true,onZero:false,lineStyle:{color:'#222',width:1.5}},
    axisTick:{show:true,length:4,customValues:ticksX,lineStyle:{color:'#222'}},
    axisLabel:{show:false}});
  yAxes.push({type:'value',gridIndex:base+1,min:0,max:100,show:false,splitLine:{show:false}});
  const tk=topKde[n];
  const tp=tk.map(p=>[p[0]/100*xMax,p[1]]);
  tp.unshift([-.1*xMax,tk[0][1]-12]);
  tp.push([1.1*xMax,tk[tk.length-1][1]],[1.1*xMax,-60],[-.1*xMax,-60]);
  polySeries(base+1,tp,fillBlue,.25);
  // right marginal
  grids.push({left:c.ml,top:r.t,width:c.mr-c.ml,height:r.b-r.t});
  xAxes.push({type:'value',gridIndex:base+2,min:0,max:100,show:false,splitLine:{show:false}});
  yAxes.push({type:'value',gridIndex:base+2,min:yr[0],max:yr[1],z:5,splitLine:{show:false},
    axisLine:{show:true,onZero:false,lineStyle:{color:'#111',width:1.5}},
    axisTick:{show:true,length:4,customValues:yTicks,lineStyle:{color:'#222'}},
    axisLabel:{show:false}});
  const rk=rightKde[n];
  const rp=rk.map(p=>[p[1],p[0]]);
  rp.push([0,yr[0]-.1],[-60,yr[0]-.1],[-60,yr[1]+.1],[0,yr[1]+.1]);
  polySeries(base+2,rp,fillBlue,.25);
  // stat box
  const w=statWidths[n];
  graphics.push({type:'rect',shape:{x:c.r-6.5-w,y:r.t+6,width:w,height:22,r:3},style:{fill:'#fff',stroke:'#d4d8dc',lineWidth:1.5},z:10,silent:true});
  graphics.push({type:'text',x:c.r-10,y:r.t+17,style:{text:statTexts[n],font:'12.5px "DejaVu Sans"',fill:'#111',textAlign:'right',textVerticalAlign:'middle'},z:11,silent:true});
  // caption
  const s=capStarts[n],y=r.cap;
  graphics.push({type:'text',x:s,y:y,style:{text:capNums[n],font:'34px "Liberation Serif"',fill:'#111',textAlign:'left',textVerticalAlign:'middle'},silent:true});
  graphics.push({type:'text',x:s+53,y:y+1,style:{text:'f',font:'italic 36px "Liberation Serif"',fill:'#111',textAlign:'left',textVerticalAlign:'middle'},silent:true});
  graphics.push({type:'text',x:s+74,y:y-7,scaleX:capSups[n]==='mean'?1.29:1.2,style:{text:capSups[n],font:'24px "Liberation Serif"',fill:'#111',textAlign:'left',textVerticalAlign:'middle'},silent:true});
  graphics.push({type:'text',x:s+71,y:y+11,scaleX:1.14,style:{text:capSubs[n],font:'24px "Liberation Serif"',fill:'#111',textAlign:'left',textVerticalAlign:'middle'},silent:true});
}
const chart=echarts.init(document.getElementById('c'),null,{renderer:'canvas'});
chart.setOption({animation:false,backgroundColor:'#fff',grid:grids,xAxis:xAxes,yAxis:yAxes,series:series,graphic:{elements:graphics}});
</script></body></html>
